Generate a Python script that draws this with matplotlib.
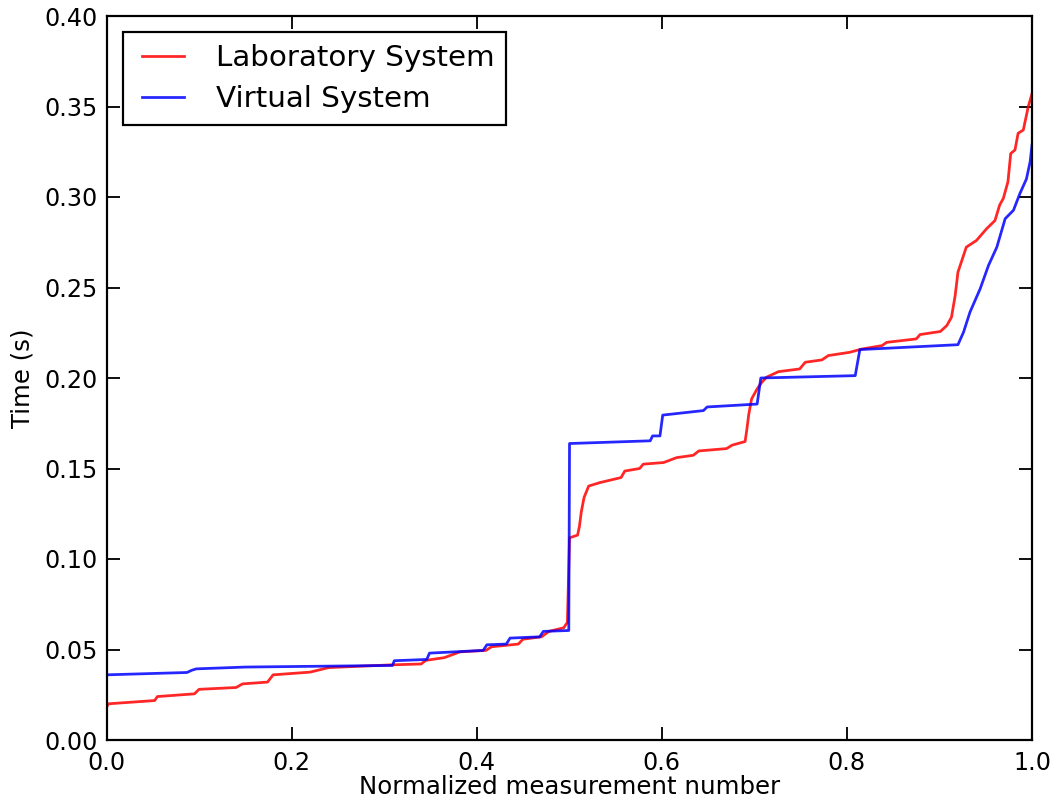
import matplotlib
matplotlib.use("Agg")
import matplotlib.pyplot as plt
from matplotlib.legend_handler import HandlerLine2D

lab_x = [0.0, 0.002, 0.052, 0.055, 0.095, 0.1, 0.14, 0.147, 0.174, 0.18, 0.22, 0.24,
         0.307, 0.34, 0.345, 0.365, 0.382, 0.41, 0.416, 0.445, 0.45, 0.47, 0.478,
         0.494, 0.498, 0.5003, 0.509, 0.511, 0.513, 0.516, 0.521, 0.533, 0.556, 0.56,
         0.576, 0.58, 0.602, 0.616, 0.634, 0.640, 0.670, 0.676, 0.690, 0.692, 0.694,
         0.697, 0.703, 0.708, 0.713, 0.726, 0.749, 0.755, 0.773, 0.780, 0.803, 0.816,
         0.838, 0.843, 0.875, 0.879, 0.901, 0.908, 0.913, 0.917, 0.920, 0.929, 0.940,
         0.951, 0.960, 0.965, 0.969, 0.974, 0.977, 0.9816, 0.985, 0.9906, 0.996, 1.0]
lab_y = [0.018, 0.020, 0.0218, 0.024, 0.0255, 0.028, 0.029, 0.031, 0.032, 0.036, 0.0375, 0.040,
         0.0415, 0.042, 0.044, 0.0455, 0.0487, 0.0495, 0.0515, 0.053, 0.0557, 0.057, 0.060,
         0.062, 0.065, 0.1117, 0.1132, 0.118, 0.126, 0.134, 0.1403, 0.1422, 0.145, 0.1486,
         0.150, 0.1524, 0.1533, 0.156, 0.1573, 0.1597, 0.161, 0.1629, 0.1649, 0.172, 0.180,
         0.1884, 0.194, 0.1976, 0.2004, 0.2035, 0.205, 0.2087, 0.210, 0.2124, 0.2142, 0.216,
         0.2179, 0.2197, 0.2216, 0.224, 0.2257, 0.229, 0.2336, 0.2456, 0.2585, 0.2723, 0.276,
         0.2825, 0.287, 0.2955, 0.2992, 0.3084, 0.324, 0.326, 0.3352, 0.337, 0.350, 0.357]

virt_x = [0.0, 0.087, 0.092, 0.097, 0.15, 0.309, 0.311, 0.346, 0.349, 0.407, 0.411, 0.432,
          0.436, 0.468, 0.472, 0.4995, 0.5003, 0.5875, 0.590, 0.598, 0.601, 0.645, 0.649,
          0.703, 0.707, 0.809, 0.814, 0.920, 0.926, 0.933, 0.944, 0.953, 0.962, 0.971,
          0.980, 0.987, 0.994, 0.998, 1.0]
virt_y = [0.036, 0.0373, 0.0385, 0.0393, 0.0403, 0.0412, 0.0438, 0.0445, 0.048, 0.0495, 0.0526,
          0.053, 0.0563, 0.057, 0.060, 0.0605, 0.1638, 0.1653, 0.168, 0.168, 0.1795, 0.182,
          0.184, 0.1856, 0.200, 0.2013, 0.2157, 0.2184, 0.2253, 0.2364, 0.2493, 0.2622, 0.2723,
          0.288, 0.2927, 0.302, 0.310, 0.3195, 0.3287]

series_labels = ["Laboratory System", "Virtual System"]
x_ticks = [0.0, 0.2, 0.4, 0.6, 0.8, 1.0]
y_ticks = [0.00, 0.05, 0.10, 0.15, 0.20, 0.25, 0.30, 0.35, 0.40]

dpi = 132
fig = plt.figure(figsize=(1060 / dpi, 801 / dpi), dpi=dpi, facecolor="white")
ax = fig.add_axes([106.5 / 1060, 61 / 801, (1032 - 106.5) / 1060, (740 - 16) / 801])

ax.plot(lab_x, lab_y, color="#ff0000", alpha=0.85, lw=1.5, label=series_labels[0])
ax.plot(virt_x, virt_y, color="#0000ff", alpha=0.85, lw=1.5, label=series_labels[1])

ax.set_xlim(0, 1.0)
ax.set_ylim(0, 0.40)
ax.set_xticks(x_ticks)
ax.set_xticklabels([f"{v:.1f}" for v in x_ticks])
ax.set_yticks(y_ticks)
ax.set_yticklabels([f"{v:.2f}" for v in y_ticks])
ax.tick_params(direction="in", top=True, right=True, length=7, width=1,
               labelsize=13, pad=5, colors="black")
ax.tick_params(axis="x", pad=6)
for s in ax.spines.values():
    s.set_linewidth(1.2)

ax.set_xlabel("Normalized measurement number", fontsize=13.3, labelpad=0)
ax.set_ylabel("Time (s)", fontsize=13.3, labelpad=5)

leg = ax.legend(loc="upper left", fontsize=16, fancybox=False, frameon=True,
                handlelength=1.68, handletextpad=1.09, borderpad=0.4,
                borderaxespad=0.55, labelspacing=0.45,
                handler_map={plt.Line2D: HandlerLine2D(xpad=0.25)})
leg.get_frame().set_edgecolor("black")
leg.get_frame().set_linewidth(1.2)
leg.get_frame().set_alpha(1.0)

fig.savefig("out.png", dpi=dpi, facecolor="white")
